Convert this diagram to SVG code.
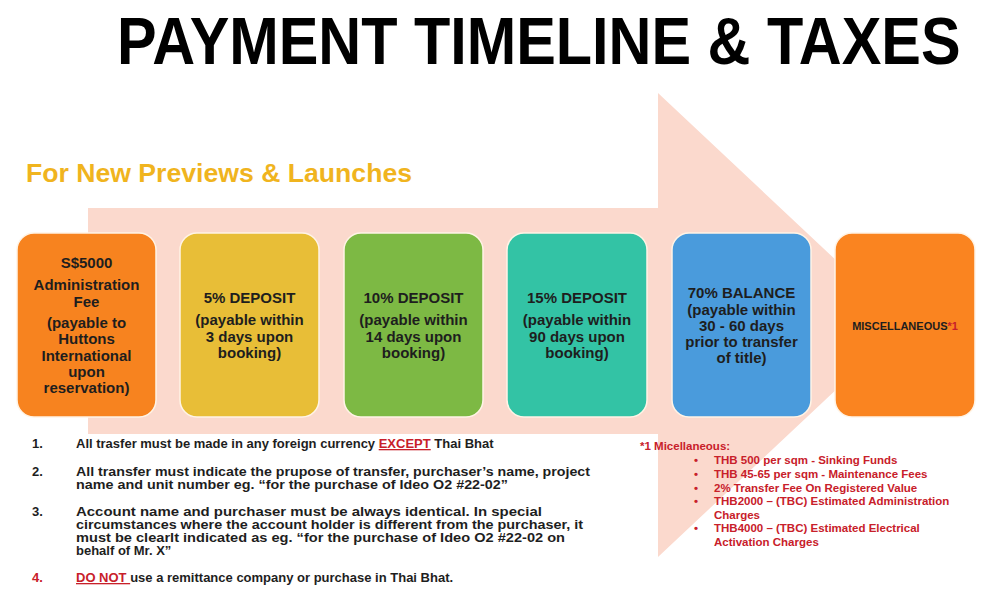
<svg xmlns="http://www.w3.org/2000/svg" width="1000" height="600" viewBox="0 0 1000 600">
<style>
  .t{font-family:"Liberation Sans",Arial,sans-serif;font-weight:bold}
  .box{stroke:#FFF4E6;stroke-width:1.5}
  .bt{font-family:"Liberation Sans",Arial,sans-serif;font-weight:bold;font-size:15px;fill:#1E1E1E;text-anchor:middle}
  .li{font-family:"Liberation Sans",Arial,sans-serif;font-weight:bold;font-size:13px;fill:#1E1E1E}
  .red{fill:#C8202A}
  .ml{font-family:"Liberation Sans",Arial,sans-serif;font-weight:bold;font-size:11.5px;fill:#C8202A}
</style>
<rect width="1000" height="600" fill="#FFFFFF"/>
<text class="t" transform="translate(117,64) scale(0.9,1)" x="0" y="0" font-size="66" fill="#000000">PAYMENT TIMELINE &amp; TAXES</text>

<g id="timeline-arrow">
  <polygon points="88,208 658,208 658,93 905,325 658,557 658,434 88,434" fill="#FBD9CD"/>
</g>

<text class="t" x="26" y="182" font-size="25" fill="#F0B41E" textLength="386" lengthAdjust="spacingAndGlyphs">For New Previews &amp; Launches</text>

<g id="node-admin-fee">
  <rect class="box" x="17" y="233" width="139" height="184" rx="17" fill="#F7831F"/>
  <text class="bt" x="86.5" y="268">S$5000</text>
  <text class="bt" x="86.5" y="290">Administration</text>
  <text class="bt" x="86.5" y="307">Fee</text>
  <text class="bt" x="86.5" y="328">(payable to</text>
  <text class="bt" x="86.5" y="344">Huttons</text>
  <text class="bt" x="86.5" y="361">International</text>
  <text class="bt" x="86.5" y="377">upon</text>
  <text class="bt" x="86.5" y="393">reservation)</text>
</g>
<g id="node-5-deposit">
  <rect class="box" x="180" y="233" width="139" height="184" rx="17" fill="#E8BE37"/>
  <text class="bt" x="249.5" y="303">5% DEPOSIT</text>
  <text class="bt" x="249.5" y="325">(payable within</text>
  <text class="bt" x="249.5" y="342">3 days upon</text>
  <text class="bt" x="249.5" y="358">booking)</text>
</g>
<g id="node-10-deposit">
  <rect class="box" x="344" y="233" width="139" height="184" rx="17" fill="#7DB944"/>
  <text class="bt" x="413.5" y="303">10% DEPOSIT</text>
  <text class="bt" x="413.5" y="325">(payable within</text>
  <text class="bt" x="413.5" y="342">14 days upon</text>
  <text class="bt" x="413.5" y="358">booking)</text>
</g>
<g id="node-15-deposit">
  <rect class="box" x="507" y="233" width="140" height="184" rx="17" fill="#33C3A5"/>
  <text class="bt" x="577" y="303">15% DEPOSIT</text>
  <text class="bt" x="577" y="325">(payable within</text>
  <text class="bt" x="577" y="342">90 days upon</text>
  <text class="bt" x="577" y="358">booking)</text>
</g>
<g id="node-70-balance">
  <rect class="box" x="672" y="233" width="139" height="184" rx="17" fill="#4A9BDC"/>
  <text class="bt" x="741.5" y="298">70% BALANCE</text>
  <text class="bt" x="741.5" y="315">(payable within</text>
  <text class="bt" x="741.5" y="331">30 - 60 days</text>
  <text class="bt" x="741.5" y="347">prior to transfer</text>
  <text class="bt" x="741.5" y="363">of title)</text>
</g>
<g id="node-miscellaneous">
  <rect class="box" x="835" y="233" width="140" height="184" rx="17" fill="#FA8420"/>
  <text class="bt" x="905" y="330" style="font-size:11px">MISCELLANEOUS<tspan class="red">*1</tspan></text>
</g>

<g id="notes">
  <text class="li" x="32" y="448">1.</text>
  <text class="li" x="76" y="448">All trasfer must be made in any foreign currency <tspan class="red" text-decoration="underline">EXCEPT</tspan> Thai Bhat</text>
  <text class="li" x="32" y="476">2.</text>
  <text class="li" x="76" y="476" textLength="514" lengthAdjust="spacingAndGlyphs">All transfer must indicate the prupose of transfer, purchaser’s name, project</text>
  <text class="li" x="76" y="489" textLength="432" lengthAdjust="spacingAndGlyphs">name and unit number eg. “for the purchase of Ideo O2 #22-02”</text>
  <text class="li" x="32" y="516">3.</text>
  <text class="li" x="76" y="516" textLength="466" lengthAdjust="spacingAndGlyphs">Account name and purchaser must be always identical. In special</text>
  <text class="li" x="76" y="529" textLength="507" lengthAdjust="spacingAndGlyphs">circumstances where the account holder is different from the purchaser, it</text>
  <text class="li" x="76" y="542" textLength="489" lengthAdjust="spacingAndGlyphs">must be clearlt indicated as eg. “for the purchase of Ideo O2 #22-02 on</text>
  <text class="li" x="76" y="555">behalf of Mr. X”</text>
  <text class="li red" x="32" y="582">4.</text>
  <text class="li" x="76" y="582"><tspan class="red" text-decoration="underline">DO NOT </tspan>use a remittance company or purchase in Thai Bhat.</text>
</g>

<g id="misc-notes">
  <text class="ml" x="640" y="450">*1 Micellaneous:</text>
  <text class="ml" x="694" y="464">•</text>
  <text class="ml" x="714" y="464">THB 500 per sqm - Sinking Funds</text>
  <text class="ml" x="694" y="478">•</text>
  <text class="ml" x="714" y="478">THB 45-65 per sqm - Maintenance Fees</text>
  <text class="ml" x="694" y="492">•</text>
  <text class="ml" x="714" y="492">2% Transfer Fee On Registered Value</text>
  <text class="ml" x="694" y="505">•</text>
  <text class="ml" x="714" y="505">THB2000 – (TBC) Estimated Administration</text>
  <text class="ml" x="714" y="519">Charges</text>
  <text class="ml" x="694" y="532">•</text>
  <text class="ml" x="714" y="532">THB4000 – (TBC) Estimated Electrical</text>
  <text class="ml" x="714" y="546">Activation Charges</text>
</g>
</svg>
